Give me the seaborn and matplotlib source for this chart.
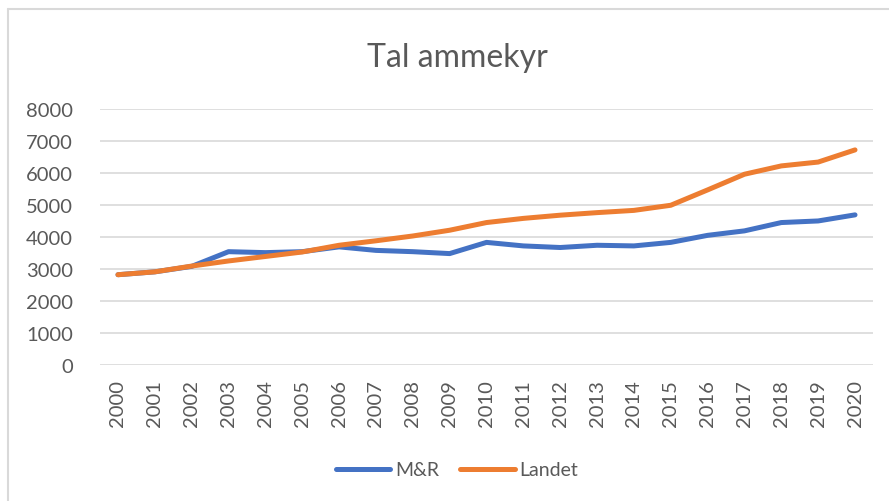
import matplotlib
matplotlib.use("Agg")
import matplotlib.pyplot as plt
import pandas as pd
import seaborn as sns
from matplotlib.lines import Line2D

# Data
years = list(range(2000, 2021))
mr = [2820, 2910, 3080, 3540, 3510, 3540, 3690, 3580, 3540, 3480, 3830,
      3720, 3670, 3740, 3720, 3830, 4050, 4190, 4450, 4500, 4690]
landet = [2820, 2910, 3090, 3250, 3390, 3530, 3740, 3880, 4030, 4210, 4450,
          4580, 4680, 4760, 4830, 4990, 5470, 5960, 6220, 6340, 6720]
series_names = ["M&R", "Landet"]
colors = ["#4472C4", "#ED7D31"]
title = "Tal ammekyr"

df = pd.DataFrame({"year": years * 2,
                   "value": mr + landet,
                   "series": [series_names[0]] * len(years) + [series_names[1]] * len(years)})
df["year"] = df["year"].astype(str)

sns.set_style("white")
plt.rcParams["font.family"] = ["Lato", "DejaVu Sans"]
text_col = "#595959"

fig = plt.figure(figsize=(8.89, 5.02), dpi=100)
ax = fig.add_axes([0.112, 0.271, 0.8705, 0.51])

sns.lineplot(data=df, x="year", y="value", hue="series", palette=colors,
             linewidth=3.6, sort=False, ax=ax, legend=True)
for ln in ax.lines:
    ln.set_solid_capstyle("round")
    ln.set_solid_joinstyle("round")

ax.set_xlim(-0.5, len(years) - 0.5)
ax.set_ylim(0, 8000)
ax.set_yticks(range(0, 8001, 1000))
ax.yaxis.grid(True, color="#D9D9D9", linewidth=1.2)
ax.set_axisbelow(True)
for s in ax.spines.values():
    s.set_visible(False)
ax.tick_params(axis="both", length=0, labelsize=14.5, colors=text_col)
ax.tick_params(axis="y", pad=19)
ax.tick_params(axis="x", pad=10)
plt.setp(ax.get_xticklabels(), rotation=90)
ax.set_xlabel("")
ax.set_ylabel("")

fig.text(0.514, 0.885, title, ha="center", va="center", fontsize=23, color=text_col)

handles, labels = ax.get_legend_handles_labels()
for h in handles:
    h.set_solid_capstyle("round")
ax.legend(handles, labels, loc="center", bbox_to_anchor=(0.514, 0.062),
          bbox_transform=fig.transFigure, ncol=2, frameon=False,
          fontsize=14, labelcolor=text_col, handlelength=2.8,
          handletextpad=0.25, columnspacing=1.1)

# chart-area border: only top and left edges are inside the picture
border = "#D9D9D9"
fig.add_artist(Line2D([0.009, 1.0], [0.980, 0.980], transform=fig.transFigure,
                      color=border, linewidth=1.5))
fig.add_artist(Line2D([0.009, 0.009], [0.0, 0.980], transform=fig.transFigure,
                      color=border, linewidth=1.5))

fig.savefig("out.png", dpi=100)
